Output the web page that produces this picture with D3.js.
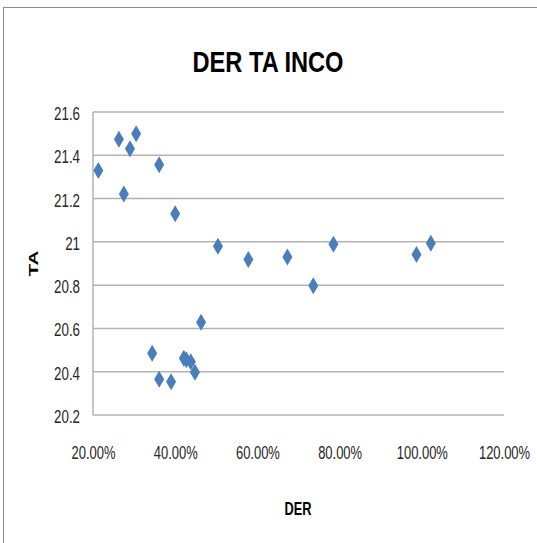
<!DOCTYPE html>
<html>
<head>
<meta charset="utf-8">
<script src="https://cdn.jsdelivr.net/npm/d3@7"></script>
<style>
  html, body { margin: 0; padding: 0; background: #fff; }
  svg { display: block; }
  text { font-family: "Liberation Sans", Arial, sans-serif; }
</style>
</head>
<body>
<svg id="chart" width="537" height="543"></svg>
<script>
// ---- data (DER in %, TA) ----
const derValues = [21.3, 26.3, 30.5, 29.0, 27.5, 36.1, 40.0, 50.4, 57.8, 67.3, 78.5, 73.6, 98.7, 102.2,
                   46.3, 34.4, 36.1, 39.0, 42.1, 42.7, 43.8, 44.8];
const taValues  = [21.33, 21.474, 21.50, 21.43, 21.221, 21.356, 21.13, 20.98, 20.919, 20.93, 20.989, 20.797, 20.942, 20.993,
                   20.628, 20.485, 20.365, 20.354, 20.462, 20.455, 20.446, 20.397];
const xTicks = [20, 40, 60, 80, 100, 120];
const yTicks = [20.2, 20.4, 20.6, 20.8, 21, 21.2, 21.4, 21.6];
const chartTitle = "DER TA INCO";
const xTitle = "DER";
const yTitle = "TA";

const svg = d3.select("#chart");

// condense text horizontally (reference looks vertically stretched)
function squeeze(sel, factor) {
  sel.each(function () {
    const len = this.getComputedTextLength();
    d3.select(this).attr("textLength", len * factor).attr("lengthAdjust", "spacingAndGlyphs");
  });
}

// outer chart border
svg.append("rect")
  .attr("x", 3.5).attr("y", 7.5)
  .attr("width", 560).attr("height", 560)
  .attr("fill", "none").attr("stroke", "#8c8c8c").attr("stroke-width", 1);

const plot = { left: 93, right: 504, top: 112, bottom: 415 };

const x = d3.scaleLinear().domain([20, 120]).range([plot.left, plot.right]);
const y = d3.scaleLinear().domain([20.2, 21.6]).range([plot.bottom, plot.top]);

// gridlines
svg.append("g")
  .selectAll("line")
  .data(yTicks)
  .join("line")
  .attr("x1", plot.left).attr("x2", plot.right)
  .attr("y1", d => y(d)).attr("y2", d => y(d))
  .attr("stroke", "#b3b3b3").attr("stroke-width", 1.5);

// y axis line
svg.append("line")
  .attr("x1", plot.left).attr("x2", plot.left)
  .attr("y1", plot.top).attr("y2", plot.bottom)
  .attr("stroke", "#b3b3b3").attr("stroke-width", 1.5);

// y axis labels
const yAxis = d3.axisLeft(y).tickValues(yTicks).tickSize(0).tickPadding(13)
  .tickFormat(d => String(+d.toFixed(1)));
const gy = svg.append("g").attr("transform", `translate(${plot.left},0)`).call(yAxis);
gy.select(".domain").remove();
gy.selectAll("text").style("font-size", "18px").attr("fill", "#262626")
  .style("font-family", '"Liberation Sans", Arial, sans-serif').attr("dy", "0.42em");
squeeze(gy.selectAll("text"), 0.74);

// x axis labels
const xAxis = d3.axisBottom(x).tickValues(xTicks).tickSize(0).tickPadding(31)
  .tickFormat(d => d.toFixed(2) + "%");
const gx = svg.append("g").attr("transform", `translate(0,${plot.bottom})`).call(xAxis);
gx.select(".domain").remove();
gx.selectAll("text").style("font-size", "18px").attr("fill", "#262626")
  .style("font-family", '"Liberation Sans", Arial, sans-serif');
squeeze(gx.selectAll("text"), 0.72);

// points (diamonds)
const pts = derValues.map((d, i) => ({ x: d, y: taValues[i] }));
const diamond = "M0,-8.5 L5,0 L0,8.5 L-5,0 Z";
svg.append("g")
  .selectAll("path")
  .data(pts)
  .join("path")
  .attr("d", diamond)
  .attr("transform", d => `translate(${x(d.x)},${y(d.y)})`)
  .attr("fill", "#4a7ebb");

// titles
svg.append("text")
  .attr("x", 268).attr("y", 72)
  .attr("text-anchor", "middle")
  .style("font-size", "30px").style("font-weight", "bold")
  .attr("fill", "#000")
  .attr("textLength", 151).attr("lengthAdjust", "spacingAndGlyphs")
  .text(chartTitle);

svg.append("text")
  .attr("x", 298).attr("y", 515)
  .attr("text-anchor", "middle")
  .style("font-size", "18px").style("font-weight", "bold")
  .attr("fill", "#000")
  .attr("textLength", 27).attr("lengthAdjust", "spacingAndGlyphs")
  .text(xTitle);

svg.append("text")
  .attr("transform", "translate(38,263.5) rotate(-90)")
  .attr("text-anchor", "middle")
  .style("font-size", "13px").style("font-weight", "bold")
  .attr("fill", "#000")
  .attr("textLength", 26).attr("lengthAdjust", "spacingAndGlyphs")
  .text(yTitle);
</script>
</body>
</html>
